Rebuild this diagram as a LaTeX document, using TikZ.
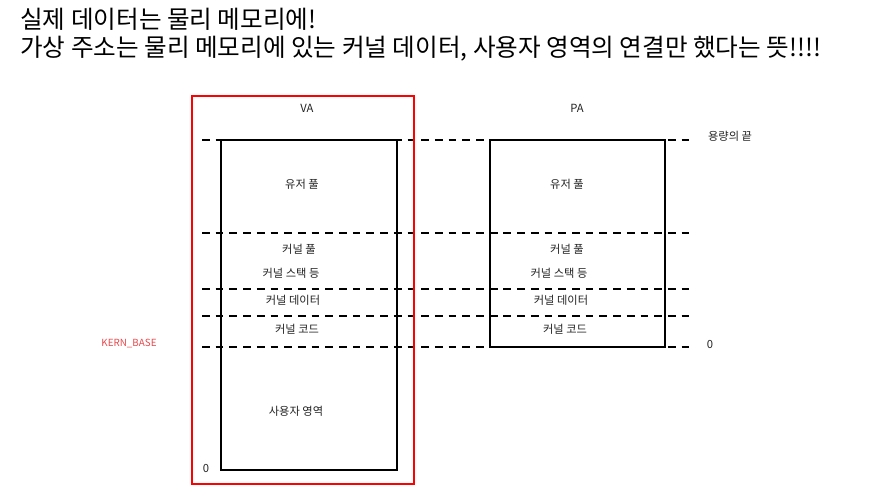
\documentclass[tikz,border=0pt]{standalone}
\usepackage{fontspec}
\setmainfont{Noto Sans CJK KR}
\setsansfont{Noto Sans CJK KR}
\usetikzlibrary{calc}
\definecolor{framered}{HTML}{FF0000}
\definecolor{basered}{HTML}{E8474B}
\definecolor{textcolor}{HTML}{222222}

\begin{document}
\begin{tikzpicture}[
  x=0.02cm, y=-0.02cm,
  every node/.style={font=\sffamily\fontsize{6.4}{8}\selectfont, text=textcolor, inner sep=0pt},
  box/.style={draw=black, line width=1.1pt},
  frame/.style={draw=framered, line width=1.1pt},
  level/.style={draw=black, line width=1.1pt, dash pattern=on 4.4pt off 3.4pt},
  title/.style={font=\sffamily\fontsize{14}{18}\selectfont, text=black, anchor=west}
]
  \useasboundingbox (0,0) rectangle (872,503);

  % titles
  \node[title] (t1) at (20,19) {실제 데이터는 물리 메모리에!};
  \node[title] (t2) at (20,49) {가상 주소는 물리 메모리에 있는 커널 데이터, 사용자 영역의 연결만 했다는 뜻!!!!};

  % levels
  \foreach \y in {140,233,289,316,347}
    \draw[level] (202,\y) -- (693,\y);

  % boxes
  \draw[frame] (192,96) rectangle (414,484);
  \draw[box] (221,140) rectangle (397,470);
  \draw[box] (490,140) rectangle (665,347);

  \node (va) at (307,108) {VA};
  \node (pa) at (577,108) {PA};

  % virtual side
  \node (vuser) at (302,184) {유저 풀};
  \node (vpool) at (299,249) {커널 풀};
  \node (vstack) at (291,273) {커널 스택 등};
  \node (vdata) at (293,300) {커널 데이터};
  \node (vcode) at (297,329) {커널 코드};
  \node (varea) at (296,411) {사용자 영역};
  \node (vzero) at (206,468) {0};
  \node[text=basered, font=\sffamily\fontsize{5.6}{7}\selectfont] (kbase) at (129,344) {KERN\_BASE};

  % physical side
  \node (puser) at (567,184) {유저 풀};
  \node (ppool) at (567,249) {커널 풀};
  \node (pstack) at (559,273) {커널 스택 등};
  \node (pdata) at (561,300) {커널 데이터};
  \node (pcode) at (565,329) {커널 코드};
  \node (pend) at (730,136) {용량의 끝};
  \node (pzero) at (710,344) {0};
\end{tikzpicture}
\end{document}
